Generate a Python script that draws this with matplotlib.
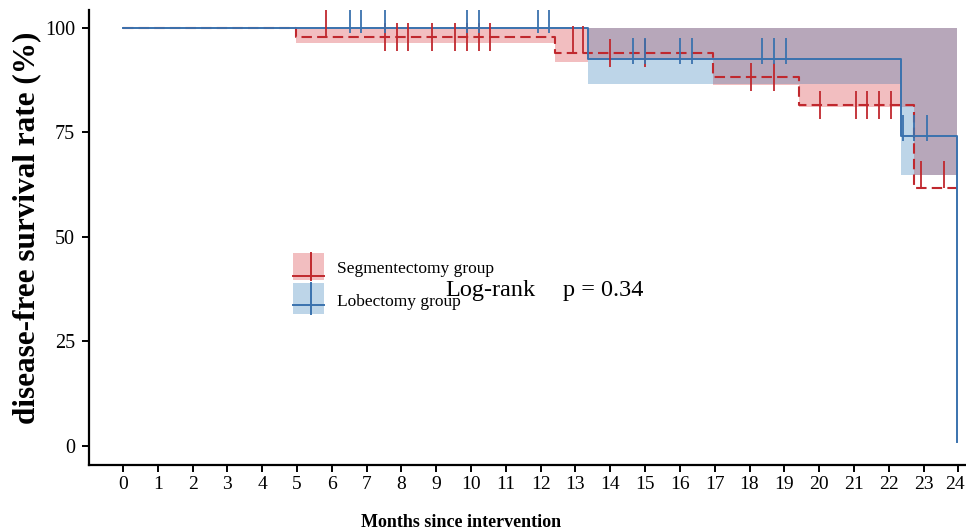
import numpy as np
import matplotlib
matplotlib.use("Agg")
import matplotlib.pyplot as plt
import matplotlib.transforms as mtrans
from matplotlib.patches import Rectangle
from matplotlib.lines import Line2D

# ---------------- data ----------------
# Segmentectomy group (red, dashed)
seg_times = [0, 4.97, 12.41, 16.95, 19.42, 22.72, 23.95]
seg_surv = [100, 97.8, 94.0, 88.2, 81.6, 61.7, 61.7]
seg_ci_times = [4.97, 12.41, 13.36, 16.95, 19.42, 22.72, 23.95]
seg_ci_lower = [96.4, 91.9, 92.6, 86.4, 81.2, 64.8, 64.8]
seg_ci_upper = [100, 100, 100, 100, 100, 100, 100]
seg_censor = [7.53, 7.86, 8.20, 8.87, 9.54, 9.88, 10.23, 10.55, 13.99, 15.0,
              18.03, 18.70, 20.03, 21.05, 21.38, 21.72, 22.07]
seg_censor_top = [5.83, 12.93, 13.22, 22.93, 23.60]

# Lobectomy group (blue, solid)
lob_times = [0, 13.36, 22.35, 23.95]
lob_surv = [100, 92.6, 74.2, 1.0]
lob_ci_times = [13.36, 22.35, 23.95]
lob_ci_lower = [86.6, 64.8, 64.8]
lob_ci_upper = [100, 100, 100]
lob_censor = [6.52, 6.84, 7.53, 9.88, 10.23, 11.91, 12.25, 14.64, 15.0, 16.0,
              16.34, 18.37, 18.70, 19.05, 22.42, 22.73, 23.09]

x_ticks = list(range(0, 25))
y_ticks = [0, 25, 50, 75, 100]
legend_labels = ["Segmentectomy group", "Lobectomy group"]
pvalue_text = ["Log-rank", "p = 0.34"]

# ---------------- style ----------------
RED = "#C0282E"
BLUE = "#3A72AE"
PINK = "#F2BEC0"
LBLUE = "#BDD5E8"
PURPLE = "#B7A7BA"
SERIF = ["Liberation Serif", "DejaVu Serif"]

W, H = 966, 532
fig = plt.figure(figsize=(W / 100, H / 100), dpi=100)
L_PX, R_PX, B_PX, T_PX = 89, 966, 465, 10
ax = fig.add_axes([L_PX / W, 1 - B_PX / H, (R_PX - L_PX) / W, (B_PX - T_PX) / H])
XMIN, XMAX = -0.977, 24.22
YMIN, YMAX = -4.55, 104.3
ax.set_xlim(XMIN, XMAX)
ax.set_ylim(YMIN, YMAX)
px_per_y = (B_PX - T_PX) / (YMAX - YMIN)


def step_eval(times, vals, t):
    i = np.searchsorted(np.asarray(times), t, side="right") - 1
    return np.asarray(vals)[i]


# confidence bands
ax.fill_between(lob_ci_times, lob_ci_lower, lob_ci_upper, step="post",
                color=LBLUE, lw=0, zorder=1)
ax.fill_between(seg_ci_times, seg_ci_lower, seg_ci_upper, step="post",
                color=PINK, lw=0, zorder=1)
# overlap of both bands (multiplicative look)
ostart = max(seg_ci_times[0], lob_ci_times[0])
oend = min(seg_ci_times[-1], lob_ci_times[-1])
grid = sorted(set([t for t in seg_ci_times + lob_ci_times if ostart <= t <= oend]))
olow = [max(step_eval(seg_ci_times, seg_ci_lower, t), step_eval(lob_ci_times, lob_ci_lower, t)) for t in grid]
oup = [min(step_eval(seg_ci_times, seg_ci_upper, t), step_eval(lob_ci_times, lob_ci_upper, t)) for t in grid]
ax.fill_between(grid, olow, oup, step="post", color=PURPLE, lw=0, zorder=1.5)

# survival curves
ax.step(seg_times, seg_surv, where="post", color=RED, lw=1.5,
        linestyle=(0, (5, 2.5)), zorder=3)
ax.step(lob_times, lob_surv, where="post", color=BLUE, lw=1.4, zorder=4)

# censor marks
def censor(times, ctimes, surv, up_px, down_px, color, z):
    ys = np.array([step_eval(times, surv, t) for t in ctimes])
    ax.vlines(ctimes, ys - down_px / px_per_y, ys + up_px / px_per_y,
              color=color, lw=1.3, zorder=z)

censor(seg_times, seg_censor, seg_surv, 14, 14, RED, 5)
censor(seg_times, seg_censor_top, seg_surv, 27, 0, RED, 5)
censor(lob_times, lob_censor, lob_surv, 21, 5, BLUE, 6)

# axes styling
for s in ["top", "right"]:
    ax.spines[s].set_visible(False)
for s in ["left", "bottom"]:
    ax.spines[s].set_linewidth(1.6)
    ax.spines[s].set_color("black")
ax.set_xticks(x_ticks)
ax.set_yticks(y_ticks)
ax.set_xticklabels([str(v) for v in x_ticks], fontfamily=SERIF, fontsize=14)
ax.set_yticklabels([str(v) for v in y_ticks], fontfamily=SERIF, fontsize=14.5)
ax.tick_params(axis="both", direction="out", length=5, width=1.4, color="black")
ax.tick_params(axis="x", pad=3)
ax.tick_params(axis="y", pad=5)
# keep the last x label inside the canvas
last = ax.get_xticklabels()[-1]
last.set_transform(last.get_transform() + mtrans.ScaledTranslation(-3 / 100, 0, fig.dpi_scale_trans))


def fx(px):
    return px / W


def fy(py):
    return 1 - py / H


fig.text(fx(27), fy(228), "disease-free survival rate (%)", rotation=90,
         ha="center", va="center", fontfamily=SERIF, fontweight="bold", fontsize=22.5)
fig.text(fx(461), fy(527), "Months since intervention", ha="center", va="baseline",
         fontfamily=SERIF, fontweight="bold", fontsize=13)

# legend (manual)
for (top, bot, hy, fc, lc, lab, base) in [
        (253, 280, 276, PINK, RED, legend_labels[0], 273),
        (283, 314, 305, LBLUE, BLUE, legend_labels[1], 306)]:
    fig.patches.append(Rectangle((fx(293), fy(bot)), fx(324) - fx(293), fy(top) - fy(bot),
                                 transform=fig.transFigure, facecolor=fc, edgecolor="none"))
    fig.lines.append(Line2D([fx(293), fx(324)], [fy(hy), fy(hy)], transform=fig.transFigure,
                            color=lc, lw=1.4))
    fig.lines.append(Line2D([fx(311), fx(311)], [fy(top), fy(bot)], transform=fig.transFigure,
                            color=lc, lw=1.4))
    fig.text(fx(337), fy(base), lab, ha="left", va="baseline", fontfamily=SERIF, fontsize=12.5)

fig.text(fx(445), fy(296), pvalue_text[0], ha="left", va="baseline", fontfamily=SERIF, fontsize=17.5)
fig.text(fx(563), fy(296), pvalue_text[1], ha="left", va="baseline", fontfamily=SERIF, fontsize=17.5)

fig.savefig("out.png", dpi=100)
